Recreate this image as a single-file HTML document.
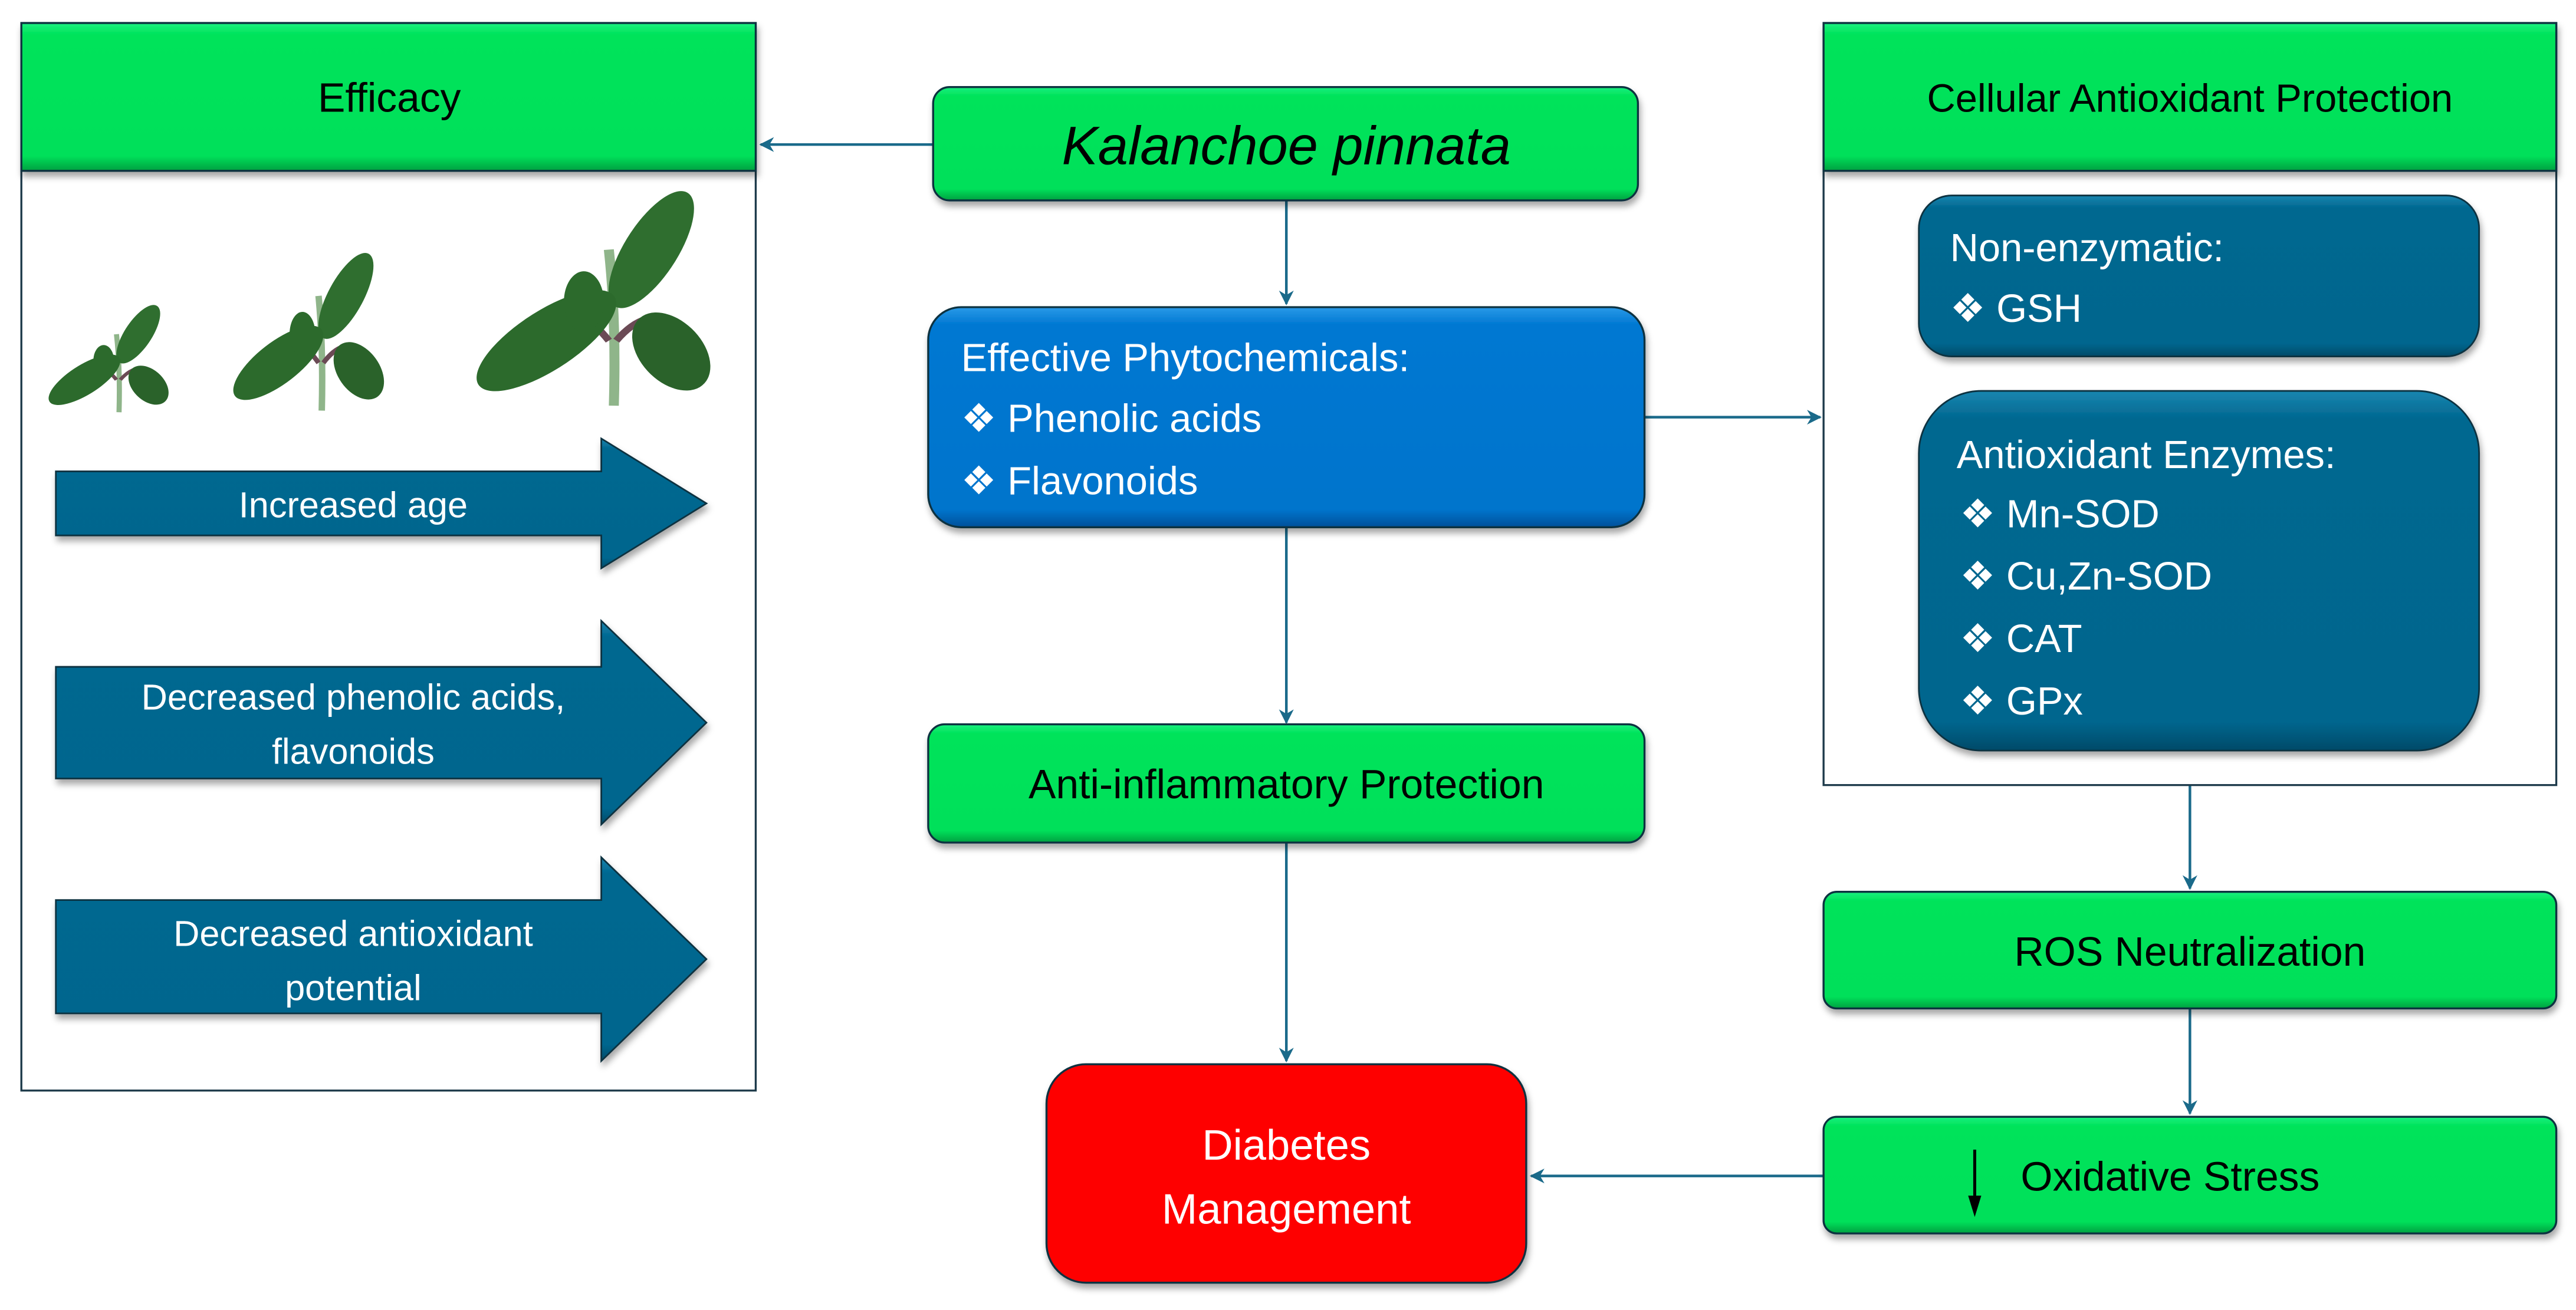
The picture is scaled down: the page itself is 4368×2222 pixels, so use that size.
<!DOCTYPE html>
<html><head><meta charset="utf-8"><style>
html,body{margin:0;padding:0;background:#fff;width:4368px;height:2222px;overflow:hidden}
svg{display:block}
text{font-family:"Liberation Sans",sans-serif}
</style></head><body>
<svg width="4368" height="2222" viewBox="0 0 1568 797.6" xmlns="http://www.w3.org/2000/svg">
<defs>
<linearGradient id="g" x1="0" y1="0" x2="0" y2="1">
<stop offset="0" stop-color="#19f080"/><stop offset="0.08" stop-color="#00e35a"/><stop offset="0.9" stop-color="#00e05a"/><stop offset="1" stop-color="#00a040"/></linearGradient>
<linearGradient id="b" x1="0" y1="0" x2="0" y2="1">
<stop offset="0" stop-color="#2a9ae8"/><stop offset="0.08" stop-color="#0078d2"/><stop offset="0.92" stop-color="#0074cc"/><stop offset="1" stop-color="#00509a"/></linearGradient>
<linearGradient id="t" x1="0" y1="0" x2="0" y2="1">
<stop offset="0" stop-color="#1a86b0"/><stop offset="0.08" stop-color="#006790"/><stop offset="0.92" stop-color="#00668e"/><stop offset="1" stop-color="#004a68"/></linearGradient>
<filter id="s" x="-5%" y="-5%" width="110%" height="120%"><feDropShadow dx="1" dy="3" stdDeviation="2" flood-color="#000" flood-opacity="0.35"/></filter>
<marker id="ah" viewBox="0 0 10 10" refX="9" refY="5" markerWidth="9" markerHeight="9" markerUnits="userSpaceOnUse" orient="auto">
<path d="M0,0 L10,5 L0,10 L3,5 Z" fill="#1a6a8a"/></marker>
<g id="plant">
<path d="M57,100 Q58,60 55,28" stroke="#8fb58a" stroke-width="4" fill="none"/>
<path d="M55,70 Q48,60 40,55 M58,70 Q64,62 70,60" stroke="#6b4a55" stroke-width="3" fill="none"/>
<ellipse cx="72" cy="28" rx="11" ry="30" transform="rotate(28 72 28)" fill="#2f6e2f"/>
<ellipse cx="30" cy="70" rx="13" ry="34" transform="rotate(52 30 70)" fill="#2c6a2c"/>
<ellipse cx="45" cy="52" rx="8" ry="14" fill="#2c6a2c"/>
<ellipse cx="80" cy="75" rx="13" ry="20" transform="rotate(-35 80 75)" fill="#2a622a"/>
</g>
</defs>
<g fill="none" stroke="#1a6a8a" stroke-width="1.6">
<line x1="568" y1="88" x2="463" y2="88" marker-end="url(#ah)"/>
<line x1="783" y1="122" x2="783" y2="185" marker-end="url(#ah)"/>
<line x1="1001" y1="254" x2="1108" y2="254" marker-end="url(#ah)"/>
<line x1="783" y1="321" x2="783" y2="440" marker-end="url(#ah)"/>
<line x1="783" y1="513" x2="783" y2="646" marker-end="url(#ah)"/>
<line x1="1333" y1="478" x2="1333" y2="541" marker-end="url(#ah)"/>
<line x1="1333" y1="614" x2="1333" y2="678" marker-end="url(#ah)"/>
<line x1="1110" y1="716" x2="932" y2="716" marker-end="url(#ah)"/>
</g>
<!-- Efficacy -->
<rect x="13" y="14" width="447" height="650" fill="#fff" stroke="#1d3a4a" stroke-width="1.2"/>
<rect x="13" y="14" width="447" height="90" fill="url(#g)" stroke="#0d3040" stroke-width="1.2" filter="url(#s)"/>
<text x="237" y="68" font-size="25" text-anchor="middle" fill="#000">Efficacy</text>
<use href="#plant" transform="translate(28,185) scale(0.78,0.66)"/>
<use href="#plant" transform="translate(140,153) scale(0.98,0.97)"/>
<use href="#plant" transform="translate(287,115) scale(1.52,1.32)"/>
<g fill="url(#t)" stroke="#0d3040" stroke-width="1" filter="url(#s)">
<path d="M34,287 H366 V267 L430,306.5 L366,346 V326 H34 Z"/>
<path d="M34,406 H366 V378 L430,440 L366,502 V474 H34 Z"/>
<path d="M34,548 H366 V522 L430,584 L366,646 V617 H34 Z"/>
</g>
<g fill="#fff" font-size="22" text-anchor="middle">
<text x="215" y="315">Increased age</text>
<text x="215" y="432">Decreased phenolic acids,</text>
<text x="215" y="465">flavonoids</text>
<text x="215" y="576">Decreased antioxidant</text>
<text x="215" y="609">potential</text>
</g>
<!-- Center -->
<rect x="568" y="53" width="429" height="69" rx="10" fill="url(#g)" stroke="#0d3040" stroke-width="1.2" filter="url(#s)"/>
<text x="783" y="100" font-size="33" font-style="italic" text-anchor="middle" fill="#000">Kalanchoe pinnata</text>
<rect x="565" y="187" width="436" height="134" rx="20" fill="url(#b)" stroke="#0d3040" stroke-width="1.2" filter="url(#s)"/>
<g fill="#fff" font-size="24">
<text x="585" y="226">Effective Phytochemicals:</text>
<text x="585" y="263">❖ Phenolic acids</text>
<text x="585" y="301">❖ Flavonoids</text>
</g>
<rect x="565" y="441" width="436" height="72" rx="10" fill="url(#g)" stroke="#0d3040" stroke-width="1.2" filter="url(#s)"/>
<text x="783" y="486" font-size="25" text-anchor="middle" fill="#000">Anti-inflammatory Protection</text>
<rect x="637" y="648" width="292" height="133" rx="24" fill="#fe0000" stroke="#0d3040" stroke-width="1.2" filter="url(#s)"/>
<g fill="#fff" font-size="26" text-anchor="middle">
<text x="783" y="706">Diabetes</text>
<text x="783" y="745">Management</text>
</g>
<!-- Right -->
<rect x="1110" y="14" width="446" height="464" fill="#fff" stroke="#1d3a4a" stroke-width="1.2"/>
<rect x="1110" y="14" width="446" height="90" fill="url(#g)" stroke="#0d3040" stroke-width="1.2" filter="url(#s)"/>
<text x="1333" y="68" font-size="24" text-anchor="middle" fill="#000">Cellular Antioxidant Protection</text>
<rect x="1168" y="119" width="341" height="98" rx="20" fill="url(#t)" stroke="#0d3040" stroke-width="1" filter="url(#s)"/>
<g fill="#fff" font-size="24">
<text x="1187" y="159">Non-enzymatic:</text>
<text x="1187" y="196">❖ GSH</text>
</g>
<rect x="1168" y="238" width="341" height="219" rx="38" fill="url(#t)" stroke="#0d3040" stroke-width="1" filter="url(#s)"/>
<g fill="#fff" font-size="24">
<text x="1191" y="285">Antioxidant Enzymes:</text>
<text x="1193" y="321">❖ Mn-SOD</text>
<text x="1193" y="359">❖ Cu,Zn-SOD</text>
<text x="1193" y="397">❖ CAT</text>
<text x="1193" y="435">❖ GPx</text>
</g>
<rect x="1110" y="543" width="446" height="71" rx="8" fill="url(#g)" stroke="#0d3040" stroke-width="1.2" filter="url(#s)"/>
<text x="1333" y="588" font-size="25" text-anchor="middle" fill="#000">ROS Neutralization</text>
<rect x="1110" y="680" width="446" height="71" rx="8" fill="url(#g)" stroke="#0d3040" stroke-width="1.2" filter="url(#s)"/>
<line x1="1202" y1="700" x2="1202" y2="730" stroke="#000" stroke-width="1.8"/>
<path d="M1198,728 L1206,728 L1202,741 Z" fill="#000"/>
<text x="1230" y="725" font-size="25" fill="#000">Oxidative Stress</text>
</svg>
</body></html>
